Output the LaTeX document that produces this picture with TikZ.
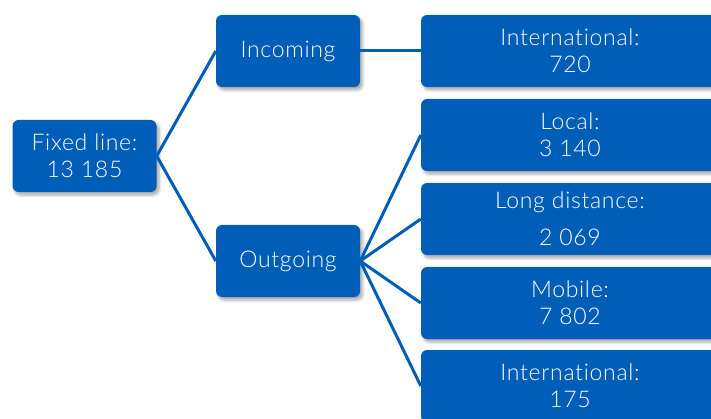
\documentclass[tikz,border=0pt]{standalone}
\usepackage{fontspec}
\setmainfont{Lato Light}[Ligatures=CommonOff, LetterSpace=3]
\usetikzlibrary{shadows.blur}
\definecolor{boxblue}{RGB}{0,94,184}
\tikzset{
  box/.style={rectangle, rounded corners=6pt, fill=boxblue, text=white,
    minimum width=144pt, minimum height=72pt, inner sep=0pt, align=center,
    font=\fontsize{23}{27}\selectfont,
    blur shadow={shadow xshift=2.5pt, shadow yshift=-3pt, shadow blur steps=6, shadow opacity=35, shadow blur radius=3pt}},
  wide/.style={box, minimum width=298pt},
  link/.style={draw=boxblue, line width=3pt}
}
\begin{document}
\begin{tikzpicture}[x=1pt,y=-1pt]
\useasboundingbox (0,0) rectangle (711,419);
\node[box] (fixed) at (84.5,156) {Fixed line:\\13 185};
\node[box] (inc) at (288,51) {Incoming};
\node[box] (out) at (288,261) {Outgoing};
\node[wide] (intA) at (570,51) {International:\\720};
\node[wide] (local) at (570,135) {Local:\\3 140};
\node[wide] (long) at (570,219) {Long distance:\\[10pt]2 069};
\node[wide] (mob) at (570,303) {Mobile:\\7 802};
\node[wide] (intB) at (570,386) {International:\\175};
\draw[link] (fixed.east) -- (inc.west);
\draw[link] (fixed.east) -- (out.west);
\draw[link] (inc.east) -- (intA.west);
\foreach \t in {local,long,mob,intB} \draw[link] (out.east) -- (\t.west);
\end{tikzpicture}
\end{document}
